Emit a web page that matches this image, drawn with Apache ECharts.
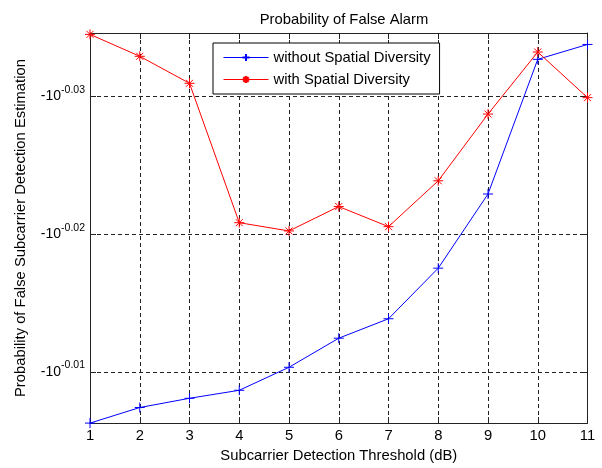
<!DOCTYPE html>
<html>
<head>
<meta charset="utf-8">
<script src="https://cdn.jsdelivr.net/npm/echarts@6/dist/echarts.min.js"></script>
<style>
  html, body { margin: 0; padding: 0; background: #fff; }
  #chart { width: 602px; height: 468px; }
</style>
</head>
<body>
<div id="chart"></div>
<script>
// x: detection threshold (dB)
const thresholds = [1, 2, 3, 4, 5, 6, 7, 8, 9, 10, 11];
// y: exponent e of the plotted value -10^e (axis is log-scaled)
const withoutDiversity = [-0.0063, -0.00743, -0.0081, -0.00868, -0.01035, -0.01246, -0.01387, -0.01754, -0.02292, -0.03269, -0.03377];
const withDiversity = [-0.0345, -0.03291, -0.03095, -0.02084, -0.02024, -0.02201, -0.02055, -0.02388, -0.02872, -0.03322, -0.02991];
const yTicks = [-0.03, -0.02, -0.01];
const yRange = [-0.0346, -0.0063];

const font = "'Liberation Sans', Arial, sans-serif";
const fs = 14.8;

const toPairs = (ys) => thresholds.map((x, i) => [x, ys[i]]);

const plusIcon = "path://M5,0L5,10M0,5L10,5";
const starIcon = "path://M5,0L5,10M0,5L10,5M1.5,1.5L8.5,8.5M1.5,8.5L8.5,1.5";

let myChart = echarts.init(document.getElementById("chart"));
myChart.setOption({
  animation: false,
  title: {
    text: "Probability of False Alarm",
    left: 339,
    top: 7,
    textAlign: "center",
    textStyle: { fontFamily: font, fontSize: fs, fontWeight: "normal", color: "#000" }
  },
  legend: {
    left: 213,
    top: 43,
    orient: "vertical",
    padding: [7, 9, 7, 10],
    itemWidth: 45,
    itemHeight: 9,
    itemGap: 7,
    backgroundColor: "#fff",
    borderColor: "#000",
    borderWidth: 1,
    borderRadius: 0,
    lineStyle: { width: 1 },
    textStyle: { fontFamily: font, fontSize: fs, color: "#000" },
    data: ["without Spatial Diversity", "with Spatial Diversity"]
  },
  grid: { left: 90, right: 14.5, top: 33, bottom: 41.3 },
  xAxis: [
    {
      type: "value",
      position: "bottom",
      min: 1,
      max: 11,
      interval: 1,
      name: "Subcarrier Detection Threshold (dB)",
      nameLocation: "middle",
      nameGap: 24,
      nameTextStyle: { fontFamily: font, fontSize: fs, color: "#000" },
      axisLine: { lineStyle: { color: "#222", width: 1 } },
      axisTick: { inside: true, length: 6, lineStyle: { color: "#222" } },
      axisLabel: { fontFamily: font, fontSize: fs, color: "#000", margin: 5 },
      splitLine: { show: true, lineStyle: { color: "#222", type: [4, 3], width: 1 } }
    },
    {
      type: "value",
      position: "top",
      min: 1,
      max: 11,
      interval: 1,
      axisLine: { show: true, lineStyle: { color: "#222", width: 1 } },
      axisTick: { inside: true, length: 6, lineStyle: { color: "#222" } },
      axisLabel: { show: false },
      splitLine: { show: false }
    }
  ],
  yAxis: [
    {
      type: "value",
      position: "left",
      inverse: true,
      min: yRange[0],
      max: yRange[1],
      name: "Probability of False Subcarrier Detection Estimation",
      nameLocation: "middle",
      nameGap: 62,
      nameTextStyle: { fontFamily: font, fontSize: fs, color: "#000" },
      axisLine: { show: true, lineStyle: { color: "#222", width: 1 } },
      axisTick: { inside: true, length: 6, customValues: yTicks, lineStyle: { color: "#222" } },
      axisLabel: {
        customValues: yTicks,
        margin: 5,
        formatter: (v) => "{b|-10}{s|" + v.toFixed(2) + "}",
        rich: {
          b: { fontFamily: font, fontSize: 14, color: "#000" },
          s: { fontFamily: font, fontSize: 10.5, color: "#000", padding: [0, 0, 13, 0] }
        }
      },
      splitLine: { show: true, lineStyle: { color: "#222", type: [4, 3], width: 1 } }
    },
    {
      type: "value",
      position: "right",
      inverse: true,
      min: yRange[0],
      max: yRange[1],
      axisLine: { show: true, lineStyle: { color: "#222", width: 1 } },
      axisTick: { inside: true, length: 6, customValues: yTicks, lineStyle: { color: "#222" } },
      axisLabel: { show: false },
      splitLine: { show: false }
    }
  ],
  series: [
    {
      name: "without Spatial Diversity",
      type: "line",
      data: toPairs(withoutDiversity),
      symbol: plusIcon,
      symbolSize: 10,
      lineStyle: { color: "#0000ff", width: 1 },
      itemStyle: { color: "#0000ff", borderColor: "#0000ff", borderWidth: 1 }
    },
    {
      name: "with Spatial Diversity",
      type: "line",
      data: toPairs(withDiversity),
      symbol: starIcon,
      symbolSize: 10,
      lineStyle: { color: "#ff0000", width: 1 },
      itemStyle: { color: "#ff0000", borderColor: "#ff0000", borderWidth: 1 }
    }
  ]
});
</script>
</body>
</html>
